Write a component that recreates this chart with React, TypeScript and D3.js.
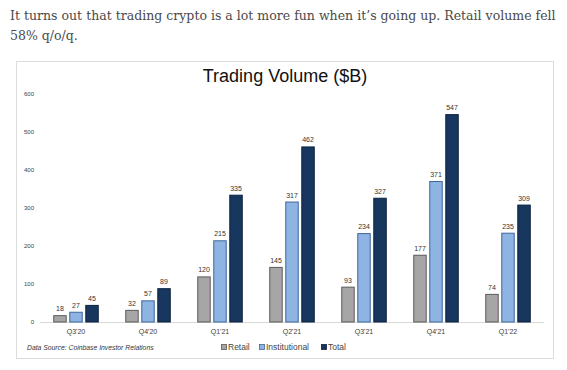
import React, { useLayoutEffect, useRef, useState } from "react";
import * as d3 from "d3";

const categories = ["Q3'20", "Q4'20", "Q1'21", "Q2'21", "Q3'21", "Q4'21", "Q1'22"];
const retail = [18, 32, 120, 145, 93, 177, 74];
const institutional = [27, 57, 215, 317, 234, 371, 235];
const total = [45, 89, 335, 462, 327, 547, 309];
const yTicks = [0, 100, 200, 300, 400, 500, 600];
const seriesNames = ["Retail", "Institutional", "Total"];
const seriesFill = ["#a6a6a6", "#8db4e2", "#17375e"];
const seriesStroke = ["#5a5a5a", "#41669a", "#0c2240"];
const headerLine1 = "It turns out that trading crypto is a lot more fun when it’s going up. Retail volume fell";
const headerLine2 = "58% q/o/q.";

export default function App() {
  const W = 567, H = 370;
  const x0 = d3.scaleBand<string>().domain(categories).range([40, 544]).padding(0);
  const x1 = d3.scaleBand<string>().domain(seriesNames).range([13.25, 58.75]).paddingInner(0.16);
  const y = d3.scaleLinear().domain([0, 600]).range([322, 94]);
  const seriesData = [retail, institutional, total];
  const ff = "'Liberation Sans', Arial, sans-serif";
  const sf = "'DejaVu Serif', 'Liberation Serif', serif";
  const hRef = useRef<SVGTextElement>(null);
  const [hScale, setHScale] = useState(1);
  useLayoutEffect(() => {
    if (hRef.current) {
      const len = hRef.current.getComputedTextLength();
      if (len > 0) setHScale(546 / len);
    }
  }, []);

  return (
    <svg width={W} height={H} style={{ position: "absolute", left: 0, top: 0, background: "#fff" }}>
      <g transform={`translate(10,0) scale(${hScale},1)`}>
        <text ref={hRef} x={0} y={20} fontFamily={sf} fontSize={13.5} fill="#4a4a4a">{headerLine1}</text>
        <text x={0} y={40} fontFamily={sf} fontSize={13.5} fill="#4a4a4a">{headerLine2}</text>
      </g>
      <rect x={16.5} y={61.5} width={537} height={297} fill="#fff" stroke="#dcdcdc" />
      <text x={285} y={82} textAnchor="middle" fontFamily={ff} fontSize={18} fill="#111">Trading Volume ($B)</text>
      {yTicks.map((t) => (
        <text key={t} x={34} y={y(t) + 2} textAnchor="end" fontFamily={ff} fontSize={6} fill="#404040">{t}</text>
      ))}
      <line x1={40} x2={544} y1={y(0) + 0.5} y2={y(0) + 0.5} stroke="#d9d9d9" />
      {categories.map((c, i) => (
        <g key={c} transform={`translate(${x0(c)},0)`}>
          {seriesNames.map((s, j) => {
            const v = seriesData[j][i];
            const bx = x1(s)!;
            const bw = x1.bandwidth();
            return (
              <g key={s}>
                <rect x={bx + 0.5} y={y(v) + 0.5} width={bw - 1} height={y(0) - y(v) - 0.5} fill={seriesFill[j]} stroke={seriesStroke[j]} strokeWidth={1} />
                <text x={bx + bw / 2} y={y(v) - 4} textAnchor="middle" fontFamily={ff} fontSize={7} fill="#333">{v}</text>
              </g>
            );
          })}
          <text x={x0.bandwidth() / 2} y={334} textAnchor="middle" fontFamily={ff} fontSize={7} fill="#404040">{c}</text>
        </g>
      ))}
      <text x={27} y={350} fontFamily={ff} fontSize={6.8} fontStyle="italic" fill="#333">Data Source: Coinbase Investor Relations</text>
      {(() => {
        const pos = [221, 259, 321];
        return seriesNames.map((s, j) => (
          <g key={s}>
            <rect x={pos[j] + 0.5} y={344.5} width={5} height={5} fill={seriesFill[j]} stroke={seriesStroke[j]} strokeWidth={0.8} />
            <text x={pos[j] + 7} y={350} fontFamily={ff} fontSize={8.5} fill="#444">{s}</text>
          </g>
        ));
      })()}
    </svg>
  );
}
